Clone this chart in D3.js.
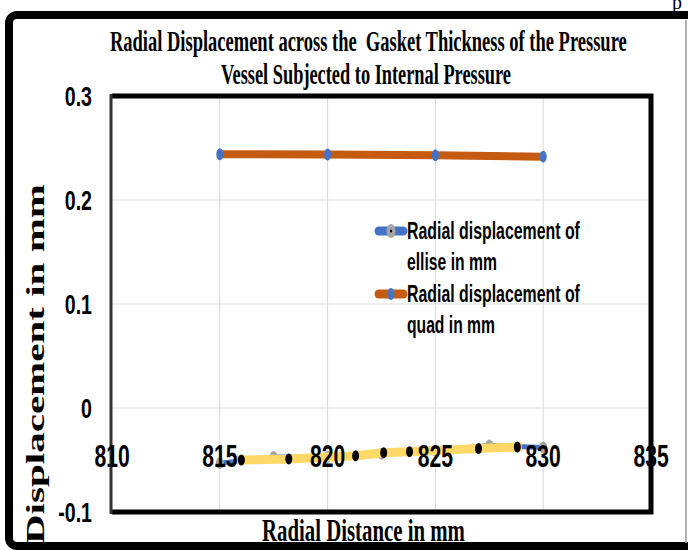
<!DOCTYPE html>
<html><head><meta charset="utf-8">
<script src="https://cdn.jsdelivr.net/npm/d3@7"></script>
<style>body{margin:0;background:#fff}svg{display:block}text{white-space:pre}</style>
</head><body><svg id="c" width="688" height="550"></svg>
<script>
const titleLines = ["Radial Displacement across the  Gasket Thickness of the Pressure", "Vessel Subjected to Internal Pressure"];
const xAxisTitle = "Radial Distance in mm";
const yAxisTitle = "Displacement in mm";
const xTicks = [810, 815, 820, 825, 830, 835];
const yTicks = [-0.1, 0, 0.1, 0.2, 0.3];
const yTickLabels = ["-0.1", "0", "0.1", "0.2", "0.3"];
const quadX = [815, 820, 825, 830];
const quadY = [0.2440, 0.2438, 0.2430, 0.2417];
const elliseX = [815, 817.5, 820, 822.5, 825, 827.5, 830];
const elliseY = [-0.053, -0.047, -0.047, -0.044, -0.041, -0.036, -0.038];
const auxX = [816, 818.2, 821.3, 822.6, 823.8, 827, 828.8];
const auxY = [-0.050, -0.049, -0.046, -0.043, -0.042, -0.039, -0.0375];
const legendLabels = [["Radial displacement of", "ellise in mm"], ["Radial displacement of", "quad in mm"]];

const svg = d3.select("#c");
const sans = "'Liberation Sans', Arial, sans-serif";
const serif = "'Liberation Serif', 'Times New Roman', serif";

// squeezed text placed to a given width, starting at x0
function fitText(parent, str, x0, yb, width, font, size, weight) {
  const g = parent.append("g");
  const t = g.append("text").attr("font-family", font).attr("font-size", size)
    .attr("font-weight", weight || "normal").text(str);
  const w = t.node().getComputedTextLength();
  g.attr("transform", `translate(${x0},${yb}) scale(${width / w},1)`);
  return g;
}

// outer frame
svg.append("rect").attr("x", 9).attr("y", 15).attr("width", 690).attr("height", 531)
  .attr("rx", 8).attr("fill", "none").attr("stroke", "#000").attr("stroke-width", 8);
svg.append("line").attr("x1", 686).attr("x2", 686).attr("y1", 20).attr("y2", 543)
  .attr("stroke", "#999").attr("stroke-width", 1.5);
svg.append("text").attr("x", 672).attr("y", 9).attr("font-family", serif).attr("font-size", 20).text("p");

const x = d3.scaleLinear().domain([810, 835]).range([112, 651]);
const y = d3.scaleLinear().domain([-0.1, 0.3]).range([512, 96]);

// gridlines
svg.append("g").selectAll("line").data(xTicks.slice(1, -1)).join("line")
  .attr("x1", d => x(d)).attr("x2", d => x(d)).attr("y1", y(0.3)).attr("y2", y(-0.1))
  .attr("stroke", "#d9d9d9").attr("stroke-width", 1);
svg.append("g").selectAll("line").data([0, 0.1, 0.2]).join("line")
  .attr("x1", x(810)).attr("x2", x(835)).attr("y1", d => y(d)).attr("y2", d => y(d))
  .attr("stroke", "#d9d9d9").attr("stroke-width", 1);

// plot frame
svg.append("path").attr("d", `M${x(810)},${y(0.3)} H${x(835)} V${y(-0.1)} H${x(810)}`)
  .attr("fill", "none").attr("stroke", "#000").attr("stroke-width", 5);
svg.append("line").attr("x1", x(810) - 1).attr("x2", x(810) - 1).attr("y1", y(0.3) - 2).attr("y2", y(-0.1) + 2)
  .attr("stroke", "#333").attr("stroke-width", 3);

// title
fitText(svg, titleLines[0], 110, 51, 517, serif, 30, "bold");
fitText(svg, titleLines[1], 221, 84, 290, serif, 30, "bold");

// y tick labels
svg.append("g").selectAll("g").data(yTicks).join("g")
  .attr("transform", d => `translate(92,${y(d) + 10}) scale(0.7,1)`)
  .append("text").attr("text-anchor", "end").attr("font-family", sans).attr("font-weight", "bold")
  .attr("font-size", 28).text((d, i) => yTickLabels[i]);

// axis titles
fitText(svg, xAxisTitle, 262, 541, 203, serif, 31, "bold");
const yt = svg.append("g").attr("transform", "translate(44,364) scale(0.62,1) rotate(-90)")
  .append("text").attr("text-anchor", "middle").attr("font-family", serif).attr("font-weight", "bold")
  .attr("font-size", 40).text(yAxisTitle);
const ytw = yt.node().getComputedTextLength();
yt.attr("transform", `scale(${360 / ytw},1)`);

// series
const line = d3.line().x(d => x(d[0])).y(d => y(d[1]));
const quad = quadX.map((v, i) => [v, quadY[i]]);
const ell = elliseX.map((v, i) => [v, elliseY[i]]);
const aux = auxX.map((v, i) => [v, auxY[i]]);

svg.append("path").datum(ell).attr("d", line).attr("fill", "none").attr("stroke", "#4472C4").attr("stroke-width", 5);
svg.append("g").selectAll("ellipse").data(ell).join("ellipse")
  .attr("cx", d => x(d[0])).attr("cy", d => y(d[1])).attr("rx", 4).attr("ry", 6).attr("fill", "#a5a5a5");
svg.append("path").datum(aux).attr("d", line).attr("fill", "none").attr("stroke", "#FFD966").attr("stroke-width", 9)
  .attr("stroke-linecap", "square");
svg.append("path").datum(quad).attr("d", line).attr("fill", "none").attr("stroke", "#C55A11").attr("stroke-width", 8);
svg.append("g").selectAll("ellipse").data(quad).join("ellipse")
  .attr("cx", d => x(d[0])).attr("cy", d => y(d[1])).attr("rx", 3.5).attr("ry", 6).attr("fill", "#4472C4");

// x tick labels
svg.append("g").selectAll("g").data(xTicks).join("g")
  .attr("transform", d => `translate(${x(d)},467) scale(0.66,1)`)
  .append("text").attr("text-anchor", "middle").attr("font-family", sans).attr("font-weight", "bold")
  .attr("font-size", 32).text(d => d);

svg.append("g").selectAll("ellipse").data(aux).join("ellipse")
  .attr("cx", d => x(d[0])).attr("cy", d => y(d[1])).attr("rx", 3.5).attr("ry", 5.5).attr("fill", "#000");

// legend
const lg = svg.append("g");
const legY = [231, 294];
const legColors = ["#4472C4", "#C55A11"];
legY.forEach((ly, i) => {
  lg.append("line").attr("x1", 379).attr("x2", 403).attr("y1", ly).attr("y2", ly)
    .attr("stroke", legColors[i]).attr("stroke-width", 9).attr("stroke-linecap", "round");
  if (i === 0) {
    lg.append("ellipse").attr("cx", 391).attr("cy", ly).attr("rx", 4.5).attr("ry", 7).attr("fill", "#a5a5a5");
    lg.append("ellipse").attr("cx", 391).attr("cy", ly).attr("rx", 1.2).attr("ry", 1.6).attr("fill", "#000");
  } else {
    lg.append("ellipse").attr("cx", 391).attr("cy", ly).attr("rx", 3.5).attr("ry", 6).attr("fill", "#4472C4");
  }
});
const legText = [[239, 270], [302, 333]];
const legWidths = [[173, 90], [173, 88]];
legendLabels.forEach((lines, i) => {
  lines.forEach((t, j) => {
    fitText(lg, t, 407, legText[i][j], legWidths[i][j], sans, 23, "bold");
  });
});
</script>
</body></html>
